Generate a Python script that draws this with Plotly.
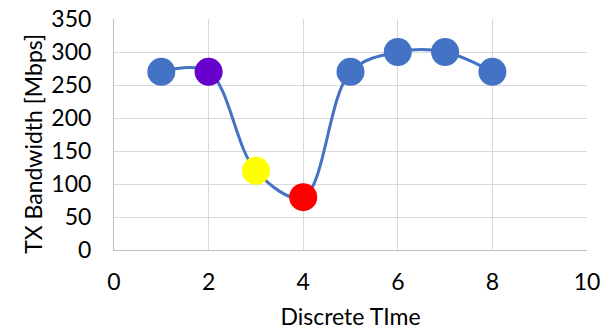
import plotly.graph_objects as go

# Bandwidth samples over discrete time steps
time_steps = [1, 2, 3, 4, 5, 6, 7, 8]
bandwidth = [270, 270, 120, 80, 270, 300, 300, 270]
point_colors = ["#4472C4", "#6600CC", "#FFFF00", "#FF0000",
                "#4472C4", "#4472C4", "#4472C4", "#4472C4"]

x_ticks = [0, 2, 4, 6, 8, 10]
y_ticks = [0, 50, 100, 150, 200, 250, 300, 350]

font_family = "Lato, Carlito, 'Open Sans', sans-serif"

fig = go.Figure()
fig.add_trace(go.Scatter(
    x=time_steps,
    y=bandwidth,
    mode="lines+markers",
    line=dict(color="#4472C4", width=3, shape="spline", smoothing=1),
    marker=dict(color=point_colors, size=28, line=dict(width=0)),
    showlegend=False,
))

fig.update_layout(
    width=602, height=330,
    margin=dict(l=114, r=15, t=19, b=80),
    paper_bgcolor="white", plot_bgcolor="white",
    font=dict(family=font_family, size=23, color="#000000"),
    xaxis=dict(
        range=[0, 10], tickvals=x_ticks, ticks="",
        showgrid=True, gridcolor="#D9D9D9", gridwidth=1,
        showline=True, linecolor="#BFBFBF", linewidth=1,
        zeroline=False, mirror=False, automargin=False,
        ticklabelstandoff=11,
        title=dict(text="Discrete TIme", standoff=17, font=dict(size=23)),
    ),
    yaxis=dict(
        range=[0, 350], tickvals=y_ticks, ticks="",
        showgrid=True, gridcolor="#D9D9D9", gridwidth=1,
        showline=True, linecolor="#BFBFBF", linewidth=1,
        zeroline=False, automargin=False,
        ticklabelstandoff=17,
    ),
    annotations=[dict(
        text="TX Bandwidth [Mbps]", textangle=-90,
        xref="paper", yref="paper", x=-0.171, y=0.46,
        xanchor="center", yanchor="middle", showarrow=False,
        font=dict(family=font_family, size=23, color="#000000"),
    )],
)

fig.write_html("out.html")
